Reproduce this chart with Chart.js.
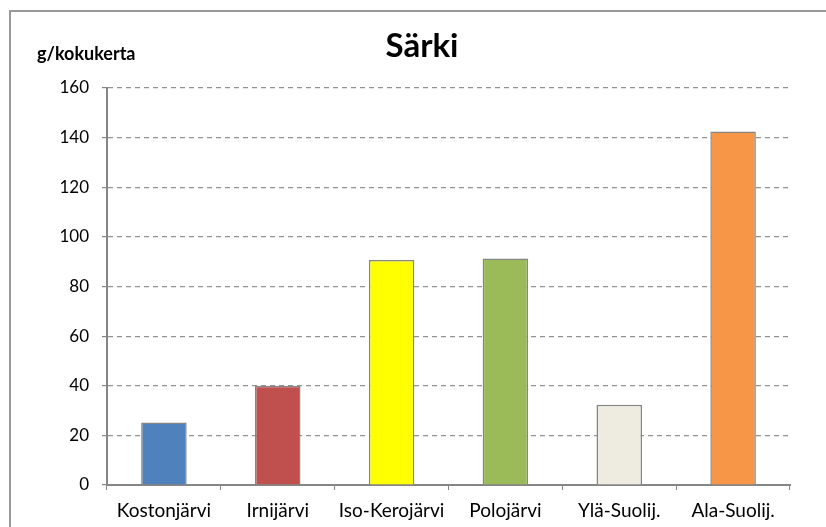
<!DOCTYPE html>
<html>
<head>
<meta charset="utf-8">
<script src="https://cdn.jsdelivr.net/npm/chart.js@4"></script>
<style>
  html, body { margin: 0; padding: 0; background: #fff; overflow: hidden; }
  #wrap { position: relative; width: 826px; height: 527px; }
  #frame { position: absolute; left: 9px; top: 10px; width: 900px; height: 600px; border: 2px solid #999; box-sizing: border-box; }
  #title { position: absolute; left: 0; width: 844px; top: 24px; text-align: center; font: bold 33px Lato, sans-serif; color: #000; }
  #unit { position: absolute; left: 37px; top: 42px; font: bold 18px Lato, sans-serif; color: #000; }
  canvas { position: absolute; left: 0; top: 0; }
</style>
</head>
<body>
<div id="wrap">
  <div id="frame"></div>
  <canvas id="chart" width="826" height="527"></canvas>
  <div id="title">Särki</div>
  <div id="unit">g/kokukerta</div>
</div>
<script>
const lakes = ['Kostonjärvi', 'Irnijärvi', 'Iso-Kerojärvi', 'Polojärvi', 'Ylä-Suolij.', 'Ala-Suolij.'];
const catch_g = [25.2, 40, 90.7, 91.3, 32.3, 142.5];
const barColors = ['#4F81BD', '#C0504D', '#FFFF00', '#9BBB59', '#EEECE1', '#F79646'];
const yMin = 0, yMax = 160, yStep = 20;

const axisGray = '#868686';

new Chart(document.getElementById('chart'), {
  type: 'bar',
  data: {
    labels: lakes,
    datasets: [{
      data: catch_g,
      backgroundColor: barColors,
      borderColor: '#858585',
      borderWidth: 1.5,
      barPercentage: 0.4,
      categoryPercentage: 1.0
    }]
  },
  options: {
    responsive: false,
    animation: false,
    layout: { padding: { top: 88, right: 36, left: 0, bottom: 0 } },
    plugins: {
      legend: { display: false },
      tooltip: { enabled: false }
    },
    scales: {
      x: {
        afterFit: scale => { scale.height = 42; },
        grid: { drawOnChartArea: false, tickLength: 5, tickColor: axisGray, offset: true },
        border: { color: axisGray, width: 2 },
        ticks: { color: '#000', padding: 9, font: { family: 'Lato', size: 19 }, maxRotation: 0 }
      },
      y: {
        min: yMin,
        max: yMax,
        afterFit: scale => { scale.width = 107; },
        grid: { color: '#939393', lineWidth: 1.2, tickLength: 5, tickColor: axisGray },
        border: { color: axisGray, width: 2, dash: [5, 4] },
        ticks: { stepSize: yStep, color: '#000', padding: 13, font: { family: 'Lato', size: 17 } }
      }
    }
  }
});
</script>
</body>
</html>
